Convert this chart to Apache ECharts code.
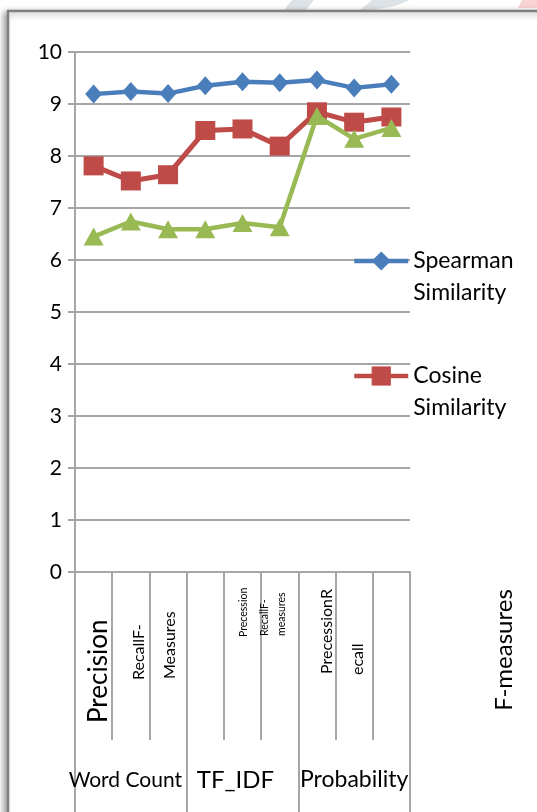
<!DOCTYPE html>
<html>
<head>
<meta charset="utf-8">
<script src="https://cdn.jsdelivr.net/npm/echarts@6/dist/echarts.min.js"></script>
<style>
html,body{margin:0;padding:0;background:#fff;}
#chart{width:537px;height:812px;}
</style>
</head>
<body>
<div id="chart"></div>
<script>
// ---- data ----
const categories = ['Precision', 'RecallF-', 'Measures', '', 'Precession', 'RecallF-\nmeasures', 'PrecessionR', 'ecall', ''];
const groups = ['Word Count', 'TF_IDF', 'Probability'];
const yTicks = [0, 1, 2, 3, 4, 5, 6, 7, 8, 9, 10];
const seriesNames = ['Spearman Similarity', 'Cosine Similarity', 'Series3'];
const spearman = [9.19, 9.24, 9.20, 9.35, 9.43, 9.41, 9.46, 9.31, 9.38];
const cosine = [7.81, 7.52, 7.64, 8.49, 8.52, 8.19, 8.85, 8.65, 8.75];
const third = [6.45, 6.74, 6.59, 6.59, 6.71, 6.63, 8.77, 8.33, 8.54];
const axisTitle = 'F-measures';

// ---- styles ----
const FONT = 'Lato';
const GRID_COLOR = '#a6a6a6';
const rich = {
  l0_0: { fontSize: 26, fontFamily: FONT, color: '#000', padding: [10, 0, 0, 0] },
  l1_0: { fontSize: 16, fontFamily: FONT, color: '#000', padding: [16, 0, 0, 43] },
  l2_0: { fontSize: 16, fontFamily: FONT, color: '#000', padding: [4, 0, 0, 44] },
  l4_0: { fontSize: 10.5, fontFamily: FONT, color: '#000', padding: [2, 0, 0, 86] },
  l5_0: { fontSize: 10.5, fontFamily: FONT, color: '#000', padding: [3, 0, 3, 87] },
  l5_1: { fontSize: 10.5, fontFamily: FONT, color: '#000', padding: [3, 0, 16, 87] },
  l6_0: { fontSize: 16, fontFamily: FONT, color: '#000', padding: [20, 0, 0, 49] },
  l7_0: { fontSize: 16, fontFamily: FONT, color: '#000', padding: [7, 0, 0, 48] }
};
const groupRich = {
  g0: { fontSize: 21, fontFamily: FONT, color: '#000', padding: [0, 11, 0, 0] },
  g1: { fontSize: 24, fontFamily: FONT, color: '#000', padding: [0, 14, 0, 0] },
  g2: { fontSize: 23, fontFamily: FONT, color: '#000', padding: [0, 0, 0, 0] }
};

const chart = echarts.init(document.getElementById('chart'), null, { renderer: 'canvas' });

const option = {
  backgroundColor: '#ffffff',
  animation: false,
  textStyle: { fontFamily: FONT },
  grid: [
    { left: 75, right: 127, top: 52, bottom: 240, containLabel: false },
    { left: 75, right: 127, top: 52, bottom: 240, containLabel: false }
  ],
  legend: {
    data: seriesNames.slice(0, 2),
    orient: 'vertical',
    left: 352,
    top: 213,
    padding: 0,
    itemWidth: 54,
    itemHeight: 24,
    itemGap: 19,
    lineStyle: { width: 4.5 },
    formatter: function (n) { return '\n' + n.replace(' ', '\n'); },
    textStyle: { fontSize: 23, lineHeight: 32, color: '#000', fontFamily: FONT }
  },
  xAxis: [
    {
      type: 'category',
      gridIndex: 0,
      data: categories,
      boundaryGap: true,
      axisLine: { lineStyle: { color: GRID_COLOR, width: 2 } },
      axisTick: { show: true, interval: 0, length: 168, lineStyle: { color: GRID_COLOR, width: 2 } },
      axisLabel: {
        interval: 0,
        rotate: 90,
        align: 'left',
        verticalAlign: 'middle',
        margin: 151,
        formatter: function (v, idx) {
          if (!v) return '';
          return v.split('\n').map(function (s, j) { return '{l' + idx + '_' + j + '|' + s + '}'; }).join('\n');
        },
        rich: rich
      },
      splitLine: { show: false }
    },
    {
      type: 'category',
      gridIndex: 1,
      data: groups,
      boundaryGap: true,
      position: 'bottom',
      axisLine: { show: false },
      axisTick: { show: true, interval: 0, length: 240, lineStyle: { color: GRID_COLOR, width: 2 } },
      axisLabel: {
        interval: 0,
        margin: 208,
        verticalAlign: 'middle',
        formatter: function (v, idx) { return '{g' + idx + '|' + v + '}'; },
        rich: groupRich
      },
      splitLine: { show: false }
    }
  ],
  yAxis: [
    {
      type: 'value',
      gridIndex: 0,
      min: yTicks[0],
      max: yTicks[yTicks.length - 1],
      interval: 1,
      axisLine: { show: true, lineStyle: { color: GRID_COLOR, width: 2 } },
      axisTick: { show: true, inside: false, length: 7, lineStyle: { color: GRID_COLOR, width: 2 } },
      axisLabel: { color: '#000', fontSize: 21, fontFamily: FONT, margin: 13 },
      splitLine: { show: true, lineStyle: { color: GRID_COLOR, width: 2 } }
    },
    {
      type: 'value', gridIndex: 1, min: 0, max: 10, show: false,
      splitLine: { show: false }
    }
  ],
  series: [
    {
      name: seriesNames[0], type: 'line', data: spearman,
      xAxisIndex: 0, yAxisIndex: 0,
      symbol: 'diamond', symbolSize: [17, 19],
      lineStyle: { color: '#4a7ebb', width: 4.5 },
      itemStyle: { color: '#4a7ebb' },
      z: 4
    },
    {
      name: seriesNames[1], type: 'line', data: cosine,
      xAxisIndex: 0, yAxisIndex: 0,
      symbol: 'rect', symbolSize: [20, 19],
      lineStyle: { color: '#be4b48', width: 5 },
      itemStyle: { color: '#be4b48' },
      z: 3
    },
    {
      name: seriesNames[2], type: 'line', data: third,
      xAxisIndex: 0, yAxisIndex: 0,
      symbol: 'triangle', symbolSize: [20, 18],
      lineStyle: { color: '#98b954', width: 4.5 },
      itemStyle: { color: '#98b954' },
      z: 5
    }
  ],
  graphic: [
    {
      type: 'polygon', z: -5,
      shape: { points: [[292, 0], [314, 0], [306, 10], [284, 10]] },
      style: { fill: '#dde3e6' }
    },
    {
      type: 'polygon', z: -5,
      shape: { points: [[372, 0], [410, 0], [395, 6], [372, 10], [360, 10]] },
      style: { fill: '#dde3e6' }
    },
    {
      type: 'polygon', z: -5,
      shape: { points: [[522, 0], [537, 0], [537, 8], [518, 8]] },
      style: { fill: '#f8d3d3' }
    },
    {
      type: 'rect', z: -4,
      shape: { x: 8, y: 11, width: 620, height: 900 },
      style: { fill: '#ffffff', stroke: '#808080', lineWidth: 2.5, shadowBlur: 6, shadowColor: 'rgba(0,0,0,0.35)', shadowOffsetX: -3, shadowOffsetY: 2 }
    },
    {
      type: 'text', x: 504, y: 650, rotation: Math.PI / 2,
      style: { text: axisTitle, font: '24px ' + FONT, fill: '#000', align: 'center', verticalAlign: 'middle' }
    }
  ]
};
chart.setOption(option);
</script>
</body>
</html>
